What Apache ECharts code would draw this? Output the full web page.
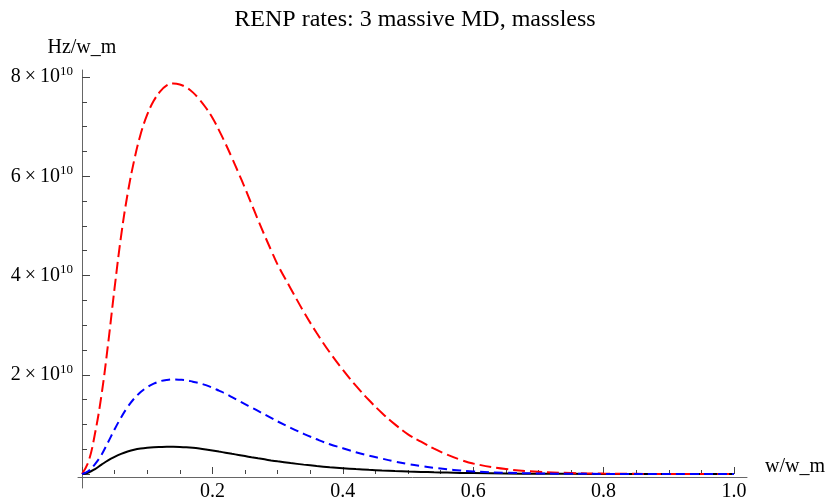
<!DOCTYPE html>
<html>
<head>
<meta charset="utf-8">
<title>RENP rates</title>
<script src="https://cdn.jsdelivr.net/npm/echarts@6/dist/echarts.min.js"></script>
<style>
  html, body { margin: 0; padding: 0; background: #fff; }
  #chart { width: 830px; height: 502px; }
</style>
</head>
<body>
<div id="chart"></div>
<script>
  // w/w_m sample points
  const xs = [0, 0.01, 0.02, 0.03, 0.04, 0.05, 0.06, 0.07, 0.08, 0.09, 0.10,
    0.11, 0.12, 0.13, 0.14, 0.15, 0.16, 0.17, 0.18, 0.19, 0.20,
    0.21, 0.22, 0.23, 0.24, 0.25, 0.26, 0.27, 0.28, 0.29, 0.30,
    0.32, 0.34, 0.36, 0.38, 0.40, 0.42, 0.44, 0.46, 0.48, 0.50,
    0.52, 0.54, 0.56, 0.58, 0.60, 0.65, 0.70, 0.75, 0.80, 0.90, 1.0];

  // rates in units of 10^10 Hz/w_m
  const redRate = [0, 0.25, 0.82, 1.6, 2.62, 3.75, 4.8, 5.65, 6.32, 6.85, 7.24,
    7.52, 7.71, 7.83, 7.87, 7.85, 7.79, 7.69, 7.55, 7.38, 7.18,
    6.93, 6.66, 6.37, 6.07, 5.76, 5.44, 5.12, 4.81, 4.51, 4.22,
    3.74, 3.27, 2.84, 2.45, 2.1, 1.78, 1.49, 1.23, 1.0, 0.8,
    0.65, 0.51, 0.39, 0.29, 0.21, 0.1, 0.045, 0.02, 0.008, 0.001, 0];
  const blueRate = [0, 0.06, 0.2, 0.39, 0.64, 0.9, 1.14, 1.35, 1.52, 1.65, 1.75,
    1.82, 1.87, 1.895, 1.905, 1.9, 1.89, 1.86, 1.83, 1.79, 1.74,
    1.68, 1.62, 1.55, 1.48, 1.41, 1.34, 1.27, 1.2, 1.13, 1.06,
    0.93, 0.81, 0.7, 0.6, 0.52, 0.44, 0.37, 0.31, 0.25, 0.2,
    0.16, 0.125, 0.095, 0.07, 0.05, 0.025, 0.011, 0.005, 0.002, 0, 0];
  const blackRate = [0, 0.03, 0.1, 0.19, 0.275, 0.345, 0.405, 0.452, 0.489, 0.514, 0.53,
    0.54, 0.545, 0.548, 0.548, 0.545, 0.538, 0.527, 0.512, 0.494, 0.474,
    0.452, 0.43, 0.407, 0.384, 0.361, 0.338, 0.316, 0.295, 0.274, 0.255,
    0.22, 0.189, 0.161, 0.137, 0.117, 0.099, 0.084, 0.071, 0.06, 0.05,
    0.042, 0.034, 0.028, 0.022, 0.018, 0.01, 0.005, 0.003, 0.001, 0, 0];

  const xTicks = [0.2, 0.4, 0.6, 0.8, 1.0];
  const yTicks = [2, 4, 6, 8];

  const FONT = 'Liberation Serif';
  const pairs = (ys) => xs.map((x, i) => [x, ys[i]]);

  const chart = echarts.init(document.getElementById('chart'));
  chart.setOption({
    animation: false,
    title: {
      text: 'RENP rates: 3 massive MD, massless',
      left: 'center',
      top: 3,
      textStyle: { fontFamily: FONT, fontSize: 24, fontWeight: 'normal', color: '#000' }
    },
    // grid 0 carries data + ticks, grid 1 only draws the (slightly longer) axis lines
    grid: [
      { left: 82, right: 96, top: 77, bottom: 25 },
      { left: 78, right: 83, top: 70, bottom: 14 }
    ],
    xAxis: [
      {
        type: 'value', gridIndex: 0, min: 0, max: 1, interval: 0.2,
        axisLine: { show: false },
        axisTick: { inside: true, length: 7, lineStyle: { color: '#444' } },
        minorTick: { show: true, splitNumber: 4, length: 4, lineStyle: { color: '#444' } },
        splitLine: { show: false },
        axisLabel: {
          margin: 8, showMinLabel: false, color: '#000', fontFamily: FONT, fontSize: 20,
          formatter: (v) => xTicks.some(t => Math.abs(t - v) < 1e-9) ? v.toFixed(1) : ''
        }
      },
      {
        type: 'value', gridIndex: 1, min: -0.006, max: 1.02,
        axisLine: { onZero: true, lineStyle: { color: '#666', width: 1 } },
        axisTick: { show: false }, axisLabel: { show: false }, splitLine: { show: false },
        name: 'w/w_m', nameLocation: 'end', nameGap: 18,
        nameTextStyle: { fontFamily: FONT, fontSize: 20, color: '#000', verticalAlign: 'bottom' }
      }
    ],
    yAxis: [
      {
        type: 'value', gridIndex: 0, min: 0, max: 8, interval: 2,
        axisLine: { show: false },
        axisTick: { inside: true, length: 8, lineStyle: { color: '#444' } },
        minorTick: { show: true, splitNumber: 4, length: 5, lineStyle: { color: '#444' } },
        splitLine: { show: false },
        axisLabel: {
          margin: 9, color: '#000',
          formatter: (v) => yTicks.includes(v) ? '{b|' + v + '\u2009×\u200910}{s|10}' : '',
          rich: {
            b: { fontFamily: FONT, fontSize: 20, color: '#000', lineHeight: 24 },
            s: { fontFamily: FONT, fontSize: 13, color: '#000', verticalAlign: 'top' }
          }
        }
      },
      {
        type: 'value', gridIndex: 1, min: -0.22, max: 8.14,
        axisLine: { onZero: true, lineStyle: { color: '#666', width: 1 } },
        axisTick: { show: false }, axisLabel: { show: false }, splitLine: { show: false },
        name: 'Hz/w_m', nameLocation: 'end', nameGap: 12,
        nameTextStyle: { fontFamily: FONT, fontSize: 20, color: '#000' }
      }
    ],
    series: [
      {
        name: 'massless', type: 'line', xAxisIndex: 0, yAxisIndex: 0,
        data: pairs(blackRate), showSymbol: false, smooth: 0.4,
        lineStyle: { color: '#000', width: 2 }
      },
      {
        name: 'red', type: 'line', xAxisIndex: 0, yAxisIndex: 0,
        data: pairs(redRate), showSymbol: false, smooth: 0.4,
        lineStyle: { color: '#ff0000', width: 2, type: [12, 5] }
      },
      {
        name: 'blue', type: 'line', xAxisIndex: 0, yAxisIndex: 0,
        data: pairs(blueRate), showSymbol: false, smooth: 0.4,
        lineStyle: { color: '#0000ff', width: 2, type: [9, 5] }
      }
    ]
  });
</script>
</body>
</html>
